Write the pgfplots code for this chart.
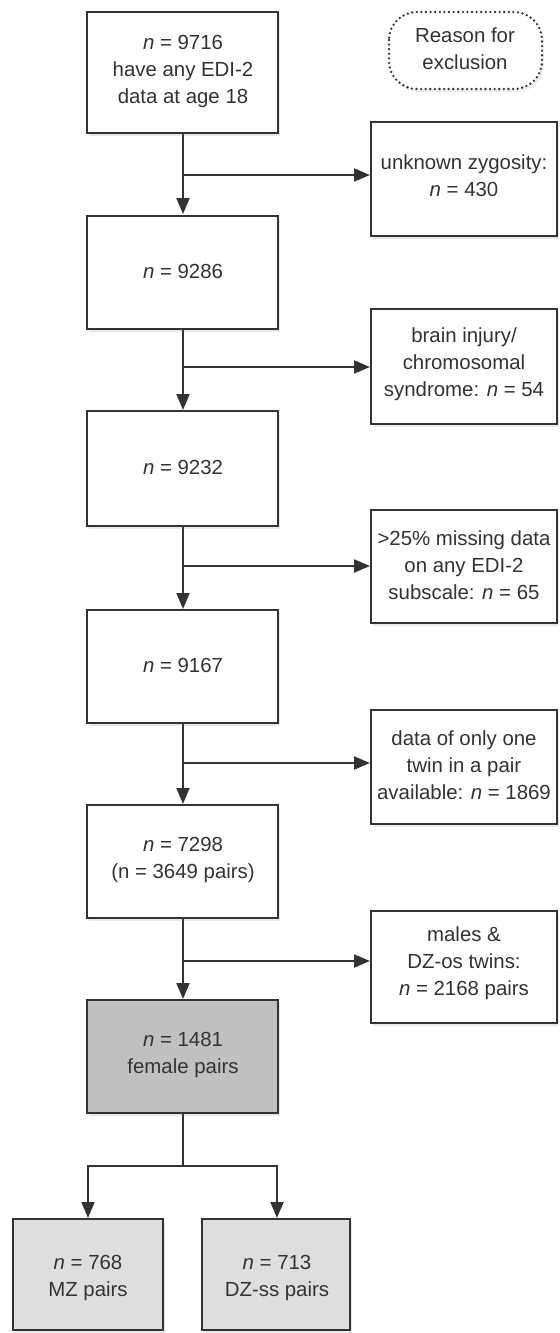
\documentclass[border=0pt]{standalone}
\usepackage{pgfplots}
\pgfplotsset{compat=1.18}
\usepackage{fontspec}
\setmainfont{Liberation Sans}
\usetikzlibrary{arrows.meta,shadows}

\definecolor{ink}{HTML}{333333}
\definecolor{midfill}{HTML}{C0C0C0}
\definecolor{lightfill}{HTML}{DEDEDE}

% box: x1 y1 x2 y2 fill cx cy text (pixel units, y down)
\newcommand{\flowbox}[8]{%
  \draw[draw=ink, line width=1.4pt, fill=#5,
        drop shadow={opacity=0.18, shadow xshift=1.2pt, shadow yshift=-1.6pt}]
    (axis cs:#1,#2) rectangle (axis cs:#3,#4);
  \node[text=ink, align=center, font=\boxfont] at (axis cs:#6,#7) {#8};}
\newcommand{\boxfont}{\fontsize{10.2pt}{13.5pt}\selectfont}

\begin{document}
\begin{tikzpicture}
\begin{axis}[
  x=0.5pt, y=0.5pt, y dir=reverse,
  xmin=0, xmax=559, ymin=0, ymax=1333,
  enlargelimits=false, scale only axis,
  hide axis, clip=false,
  conn/.style={ink, solid, line width=1.1pt, no markers,
    -{Triangle[length=8pt, width=6.5pt]}},
  ]
  \path (axis cs:0,0) rectangle (axis cs:559,1333);

  % connectors: main column
  \addplot[conn] coordinates {(183,133) (183,214)};
  \addplot[conn] coordinates {(183,329) (183,410)};
  \addplot[conn] coordinates {(183,526) (183,609)};
  \addplot[conn] coordinates {(183,723) (183,804)};
  \addplot[conn] coordinates {(183,918) (183,999)};
  % connectors: exclusions
  \addplot[conn] coordinates {(183,175) (370,175)};
  \addplot[conn] coordinates {(183,367) (370,367)};
  \addplot[conn] coordinates {(183,566) (370,566)};
  \addplot[conn] coordinates {(183,763) (370,763)};
  \addplot[conn] coordinates {(183,961) (370,961)};
  % split to MZ / DZ-ss
  \addplot[conn, -] coordinates {(183,1113) (183,1166)};
  \addplot[conn] coordinates {(183,1166) (88,1166) (88,1218)};
  \addplot[conn] coordinates {(183,1166) (277,1166) (277,1218)};

  % main column
  \flowbox{87}{12}{278}{133}{white}{183}{71}{\textit{n} = 9716\\have any EDI-2\\data at age 18}
  \flowbox{87}{216}{278}{329}{white}{183}{271}{\textit{n} = 9286}
  \flowbox{87}{411}{278}{526}{white}{183}{467}{\textit{n} = 9232}
  \flowbox{87}{610}{278}{723}{white}{183}{665}{\textit{n} = 9167}
  \flowbox{87}{805}{278}{918}{white}{183}{860}{\textit{n} = 7298\\(n = 3649 pairs)}
  \flowbox{87}{1000}{278}{1113}{midfill}{183}{1055}{\textit{n} = 1481\\female pairs}
  \flowbox{13}{1219}{163}{1330}{lightfill}{88}{1278}{\textit{n} = 768\\MZ pairs}
  \flowbox{202}{1219}{350}{1330}{lightfill}{277}{1278}{\textit{n} = 713\\DZ-ss pairs}

  % exclusion boxes
  \flowbox{371}{122}{557}{236}{white}{464}{176}{unknown zygosity:\\\textit{n} = 430}
  \flowbox{371}{309}{557}{424}{white}{464}{364}{brain injury/\\chromosomal\\syndrome: \textit{n} = 54}
  \flowbox{371}{510}{557}{623}{white}{464}{565}{\textgreater25\% missing data\\on any EDI-2\\subscale: \textit{n} = 65}
  \flowbox{371}{710}{557}{824}{white}{464}{765}{data of only one\\twin in a pair\\available: \textit{n} = 1869}
  \flowbox{371}{911}{557}{1023}{white}{464}{963}{males \&\\DZ-os twins:\\\textit{n} = 2168 pairs}

  % legend bubble
  \draw[ink, line width=1.3pt, dash pattern=on 0pt off 2.3pt, line cap=round,
        rounded corners=14pt, fill=white,
        drop shadow={opacity=0.15, shadow xshift=1pt, shadow yshift=-1.5pt}]
    (axis cs:389,12) rectangle (axis cs:542,89);
  \node[text=ink, align=center, font=\boxfont] at (axis cs:465,49) {Reason for\\exclusion};
\end{axis}
\end{tikzpicture}
\end{document}
